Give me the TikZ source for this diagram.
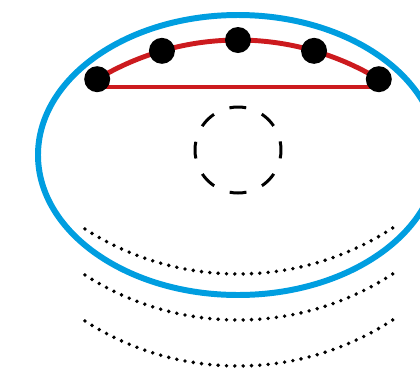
\documentclass[tikz,border=0pt]{standalone}
\usetikzlibrary{calc}
\definecolor{skyblue}{RGB}{0,158,224}
\definecolor{chordred}{RGB}{204,26,30}
\begin{document}
\begin{tikzpicture}[x=0.02cm,y=-0.02cm,
  rim/.style={draw=skyblue,line width=3.4pt},
  redline/.style={draw=chordred,line width=2.8pt},
  blob/.style={fill=black},
  hole/.style={draw=black,line width=1.7pt,dash pattern=on 9.6pt off 9.6pt,dash phase=4.8pt},
  ripple/.style={draw=black,line width=2.2pt,line cap=round,dash pattern=on 0pt off 4.75pt}]
\useasboundingbox (0,0) rectangle (420,373);
\clip (0,0) rectangle (420,373);
% outer ellipse
\draw[rim] (238,155) ellipse [x radius=200, y radius=140];
% red arc and chord
\coordinate (rc) at (238,312.6);
\coordinate (d1) at ($(rc)+(-121.1:272.6)$);
\coordinate (d2) at ($(rc)+(-106.2:272.6)$);
\coordinate (d3) at ($(rc)+(-90:272.6)$);
\coordinate (d4) at ($(rc)+(-73.8:272.6)$);
\coordinate (d5) at ($(rc)+(-58.9:272.6)$);
\draw[redline] (d1) arc[start angle=-121.1,end angle=-58.9,radius=272.6];
\coordinate (c1) at (97,87);
\coordinate (c2) at (378,87);
\draw[redline] (c1) -- (c2);
\foreach \d in {d1,d2,d3,d4,d5}
  \fill[blob] (\d) circle[radius=13];
% dashed circle
\draw[hole] (238,150) circle[radius=43];
% dotted ripples
\foreach \yy in {274,320,366}{
  \coordinate (rp) at (238,\yy-282.6);
  \draw[ripple] ($(rp)+(122.8:282.6)$) arc[start angle=122.8,end angle=55.5,radius=282.6];
}
\end{tikzpicture}
\end{document}
